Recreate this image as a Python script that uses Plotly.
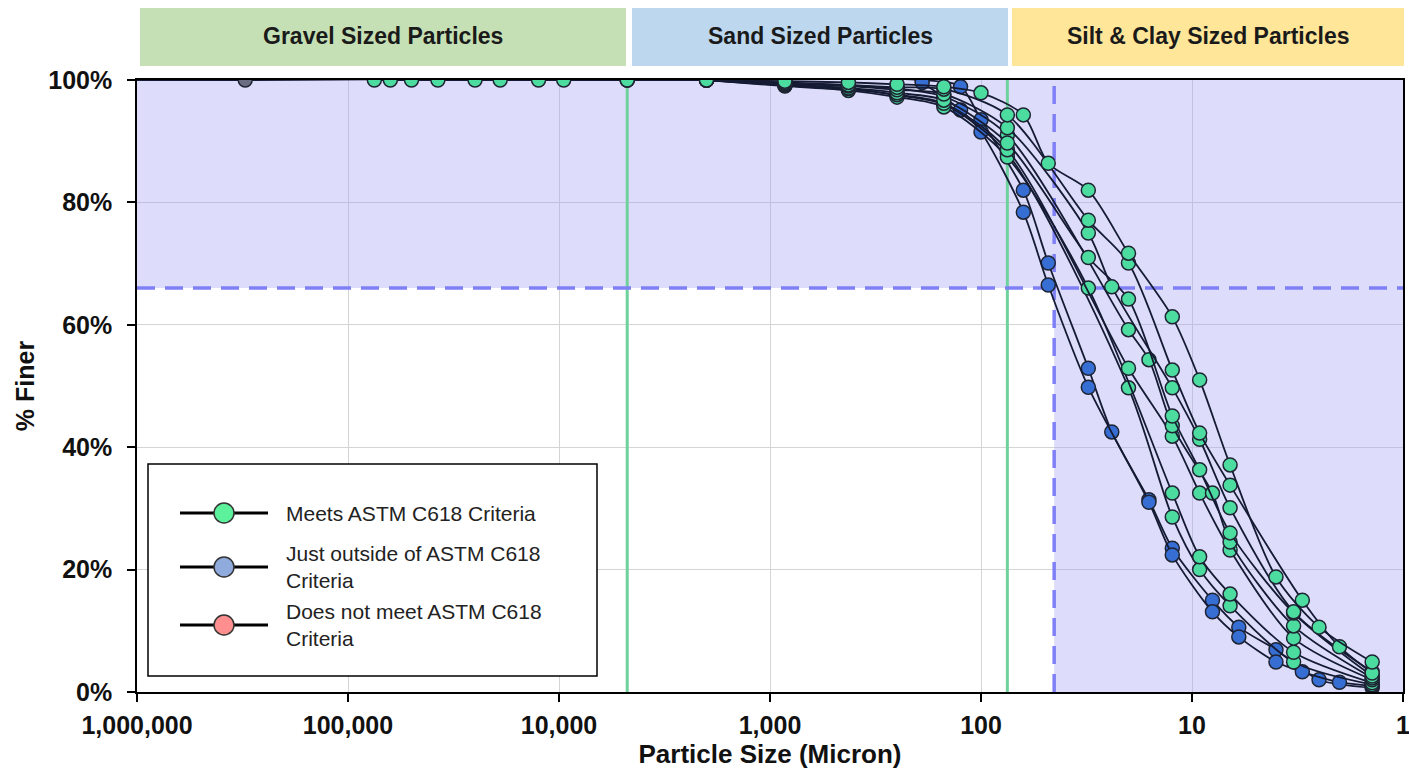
import math
import plotly.graph_objects as go

# ---------------- data (particle size in micron, % finer) ----------------
gravel_sizes = [75000, 63000, 50000, 37500, 25000, 19000, 12500, 9500]
gravel_pass = [100, 100, 100, 100, 100, 100, 100, 100]

s1_size = [4750, 2000, 850, 425, 250, 150, 100, 63, 48, 31, 20, 12.4, 9.2, 6.6, 4, 2.5, 1.4]
s1_pass = [100, 100, 99.8, 99.6, 99.3, 98.9, 97.9, 94.3, 86.4, 82.0, 71.7, 61.3, 51.0, 37.1, 18.8, 10.6, 4.9]

s2_size = gravel_sizes + [4750, 2000, 850, 425, 250, 150, 75, 31, 20, 12.4, 9.2, 6.6, 3, 2, 1.4]
s2_pass = gravel_pass + [100, 100, 99.6, 99.2, 98.8, 98.5, 94.3, 77.1, 70.1, 52.6, 42.3, 33.8, 15.0, 7.4, 3.1]

s3_size = [4750, 2000, 850, 425, 250, 150, 75, 31, 24, 12.4, 9.2, 6.6, 3.3, 1.4]
s3_pass = [100, 100, 99.4, 99.0, 98.4, 97.7, 92.2, 75.0, 66.2, 49.7, 41.3, 30.1, 13.1, 3.3]

s4_size = [2000, 850, 425, 250, 150, 75, 31, 20, 12.4, 9.2, 6.6, 3.3, 1.4]
s4_pass = [100, 99.3, 98.7, 97.9, 96.7, 89.7, 71.0, 64.2, 45.1, 36.3, 26.0, 12.9, 2.6]

s5_size = [2000, 850, 425, 250, 150, 75, 20, 16, 12.4, 8, 6.6, 3.3, 1.4]
s5_pass = [100, 99.5, 99.1, 98.6, 97.3, 91.0, 59.2, 54.3, 43.5, 32.5, 24.5, 10.8, 2.3]

s6_size = [2000, 850, 425, 250, 150, 75, 20, 12.4, 9.2, 6.6, 3.3, 1.4]
s6_pass = [100, 99.2, 98.6, 97.6, 96.2, 88.6, 52.9, 41.8, 32.5, 23.2, 8.8, 2.0]

s7_size = [2000, 850, 425, 250, 150, 75, 31, 12.4, 9.2, 6.6, 3.3, 1.4]
s7_pass = [100, 99.0, 98.3, 97.2, 95.6, 87.4, 66.0, 32.5, 22.1, 16.0, 6.5, 1.5]

s8_size = [2000, 850, 425, 250, 150, 75, 20, 12.4, 9.2, 6.6, 3.3, 1.4]
s8_pass = [100, 99.1, 98.5, 97.5, 96.0, 88.0, 49.7, 28.6, 20.0, 14.1, 4.9, 1.2]

b1_size = [1500000, 307000, 190, 125, 100, 63, 48, 31, 24, 16, 12.4, 8, 6, 4, 2.5, 1.4]
b1_pass = [100, 100, 100, 98.9, 93.5, 82.0, 70.1, 52.9, 42.5, 31.4, 23.5, 15.0, 10.6, 6.9, 2.0, 0.7]

b2_size = [190, 125, 100, 63, 48, 31, 16, 12.4, 8, 6, 4, 3, 2, 1.4]
b2_pass = [99.6, 95.1, 91.5, 78.4, 66.5, 49.8, 31.0, 22.4, 13.1, 9.0, 4.9, 3.3, 1.6, 1.0]

x_tickvals = [1000000, 100000, 10000, 1000, 100, 10, 1]
x_ticktext = ["1,000,000", "100,000", "10,000", "1,000", "100", "10", "1"]
y_tickvals = [0, 20, 40, 60, 80, 100]
y_ticktext = ["0%", "20%", "40%", "60%", "80%", "100%"]

sieve_no4 = 4750
sieve_no200 = 75
limit_size = 45
limit_pass = 66

bands = ["Gravel Sized Particles", "Sand Sized Particles", "Silt & Clay Sized Particles"]
legend_labels = ["Meets ASTM C618 Criteria",
                 "Just outside of ASTM C618<br>Criteria",
                 "Does not meet ASTM C618<br>Criteria"]

# ---------------- styling ----------------
W, H = 1409, 771
ML, MR, MT, MB = 137, 6, 80, 79
PW, PH = W - ML - MR, H - MT - MB
FONT = "Liberation Sans, Arial, sans-serif"
GREEN = "#4ddca0"
BLUE = "#376ed4"
GRAY = "#6b6e82"
LINE = "#151b33"


def px(X):
    return (X - ML) / PW


def py(Y):
    return (H - MB - Y) / PH


fig = go.Figure()

# shaded acceptance region
fig.add_trace(go.Scatter(
    x=[1000000, 1, 1, limit_size, limit_size, 1000000, 1000000],
    y=[100, 100, 0, 0, limit_pass, limit_pass, 100],
    mode="lines", fill="toself", fillcolor="rgba(165,165,245,0.38)",
    line=dict(width=0), hoverinfo="skip", showlegend=False))

# sieve boundaries
for s in (sieve_no4, sieve_no200):
    fig.add_trace(go.Scatter(x=[s, s], y=[0, 100], mode="lines",
                             line=dict(color="#6fd29c", width=3),
                             hoverinfo="skip", showlegend=False))

# dashed criteria lines
fig.add_trace(go.Scatter(x=[1000000, 1], y=[limit_pass, limit_pass], mode="lines",
                         line=dict(color="#7f80f6", width=3.5, dash="18px,10px"),
                         hoverinfo="skip", showlegend=False))
fig.add_trace(go.Scatter(x=[limit_size, limit_size], y=[0, 100], mode="lines",
                         line=dict(color="#7f80f6", width=3.5, dash="18px,10px"),
                         hoverinfo="skip", showlegend=False))

series = [
    (b1_size, b1_pass, [GRAY, GRAY] + [BLUE] * (len(b1_size) - 2)),
    (b2_size, b2_pass, BLUE),
    (s8_size, s8_pass, GREEN),
    (s7_size, s7_pass, GREEN),
    (s6_size, s6_pass, GREEN),
    (s5_size, s5_pass, GREEN),
    (s4_size, s4_pass, GREEN),
    (s3_size, s3_pass, GREEN),
    (s2_size, s2_pass, GREEN),
    (s1_size, s1_pass, GREEN),
]
for xs, ys, col in series:
    fig.add_trace(go.Scatter(
        x=xs, y=ys, mode="lines+markers",
        line=dict(color=LINE, width=1.8, shape="spline", smoothing=0.8),
        marker=dict(size=14, color=col, line=dict(color="#1e2433", width=1.5)),
        showlegend=False))

shapes = []
annotations = []

# header bands
band_px = [(140, 626, "#c5e0b4"), (632, 1008, "#bdd7ee"), (1012, 1404, "#ffe699")]
for (x0, x1, c), label in zip(band_px, bands):
    shapes.append(dict(type="rect", xref="paper", yref="paper",
                       x0=px(x0), x1=px(x1), y0=py(66), y1=py(8),
                       fillcolor=c, line=dict(width=0), layer="below"))
    annotations.append(dict(text=label, xref="paper", yref="paper",
                            x=px((x0 + x1) / 2), y=py(36), showarrow=False,
                            xanchor="center", yanchor="middle",
                            font=dict(family=FONT, size=23, color="#1a1a1a", weight="bold")))

# legend box
shapes.append(dict(type="rect", xref="paper", yref="paper",
                   x0=px(148), x1=px(597), y0=py(676), y1=py(464),
                   fillcolor="white", line=dict(color="black", width=1.5), layer="above"))
leg_cols = ["#5cf29b", "#8faadc", "#ff8f8f"]
for yc, col, lab in zip([513, 567, 625], leg_cols, legend_labels):
    shapes.append(dict(type="line", xref="paper", yref="paper",
                       x0=px(180), x1=px(268), y0=py(yc), y1=py(yc),
                       line=dict(color="black", width=3), layer="above"))
    shapes.append(dict(type="circle", xref="paper", yref="paper",
                       x0=px(214), x1=px(234), y0=py(yc + 10), y1=py(yc - 10),
                       fillcolor=col, line=dict(color="#333333", width=1.5), layer="above"))
    annotations.append(dict(text=lab, xref="paper", yref="paper",
                            x=px(284), y=py(yc), showarrow=False,
                            xanchor="left", yanchor="middle", align="left",
                            font=dict(family=FONT, size=21, color="#222222")))

fig.update_layout(
    width=W, height=H,
    margin=dict(l=ML, r=MR, t=MT, b=MB),
    paper_bgcolor="white", plot_bgcolor="white",
    shapes=shapes, annotations=annotations,
    font=dict(family=FONT, color="#111111"),
    showlegend=False,
    xaxis=dict(type="log", range=[6, 0], tickvals=x_tickvals, ticktext=x_ticktext,
               showgrid=True, gridcolor="#d4d4d4", gridwidth=1,
               showline=True, linecolor="black", linewidth=1.5, mirror=True,
               ticks="outside", ticklen=8, tickcolor="black", tickwidth=1.5,
               ticklabelstandoff=2, ticklabeloverflow="allow",
               tickfont=dict(family=FONT, size=25, color="#111111", weight="bold"),
               title=dict(text="Particle Size (Micron)", standoff=6,
                          font=dict(family=FONT, size=26, color="#111111", weight="bold")),
               zeroline=False, automargin=False),
    yaxis=dict(range=[0, 100], tickvals=y_tickvals, ticktext=y_ticktext,
               showgrid=True, gridcolor="#d4d4d4", gridwidth=1,
               showline=True, linecolor="black", linewidth=1.5, mirror=True,
               ticks="outside", ticklen=8, tickcolor="black", tickwidth=1.5,
               ticklabelstandoff=10, ticklabeloverflow="allow",
               tickfont=dict(family=FONT, size=25, color="#111111", weight="bold"),
               title=dict(text="% Finer", standoff=7,
                          font=dict(family=FONT, size=25, color="#111111", weight="bold")),
               zeroline=False, automargin=False),
)

fig.write_html("out.html", config={"displayModeBar": False},
               post_script="document.body.style.margin='0';document.body.style.overflow='hidden';")
